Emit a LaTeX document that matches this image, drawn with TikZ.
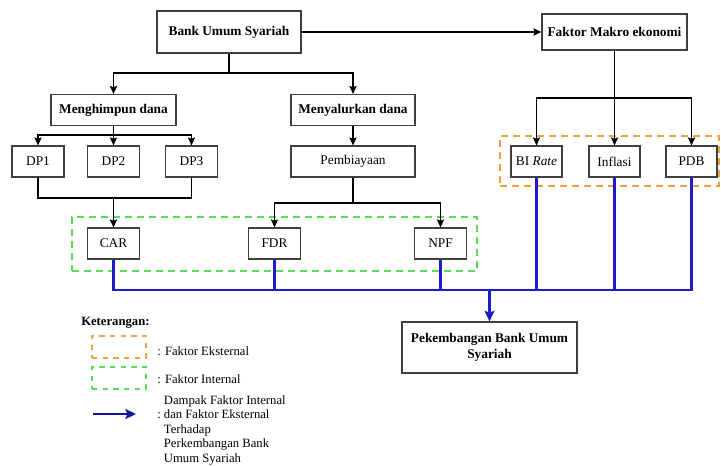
\documentclass[tikz,border=0pt]{standalone}
\usepackage{fontspec}
\setmainfont{Liberation Serif}
\usepackage{tikz}
\usetikzlibrary{shapes.geometric, arrows, arrows.meta, calc, positioning}
\definecolor{eksternal}{RGB}{236,162,64}
\definecolor{internal}{RGB}{85,222,85}
\definecolor{dampak}{RGB}{28,28,204}
\definecolor{dampakket}{RGB}{20,20,150}
\tikzstyle{block} = [rectangle, draw=black!75, line width=0.9pt, minimum width=39pt, minimum height=23.25pt, text centered, inner sep=2pt]
\tikzstyle{title} = [block, font=\fontsize{10}{12}\selectfont\bfseries]
\tikzstyle{arrow} = [line width=0.8pt,-{Stealth[length=6pt, width=5.5pt, inset=1pt]}]
\tikzstyle{impact} = [draw=dampak, line width=1.6pt]
\tikzstyle{impactarrow} = [impact, -{Stealth[length=8pt, width=7.5pt, inset=1.5pt]}]
\tikzstyle{group} = [rectangle, dash pattern=on 5pt off 4pt, line width=1.9pt, inner sep=0pt]
\tikzstyle{legend} = [anchor=west, inner sep=0pt, font=\fontsize{9.5}{10.9}\selectfont]

\begin{document}
\begin{tikzpicture}[x=0.75pt, y=-0.75pt, font=\fontsize{10}{12}\selectfont]
		\useasboundingbox (0,0) rectangle (721,465);
		% kelompok faktor
		\node (intern) [group, draw=internal, minimum width=303.75pt, minimum height=40.5pt] at (274.5,244) {};
		\node (ekstern) [group, draw=eksternal, minimum width=164.25pt, minimum height=37.5pt] at (609.5,161) {};
		% kotak utama
		\node (bus) [title, minimum width=108pt, minimum height=31.5pt] at (229,32) {Bank Umum Syariah};
		\node (makro) [title, minimum width=108.75pt, minimum height=27pt] at (614.5,32) {Faktor Makro ekonomi};
		\node (himpun) [title, minimum width=93.75pt] at (113.5,110) {Menghimpun dana};
		\node (salur) [title, minimum width=93pt] at (353,110) {Menyalurkan dana};
		% indikator
		\node (dp1) [block] at (38,161.5) {DP1};
		\node (dp2) [block] at (113.5,161.5) {DP2};
		\node (dp3) [block] at (191.5,161.5) {DP3};
		\node (pembiayaan) [block, minimum width=93pt] at (353,161.5) {Pembiayaan};
		\node (bi) [block, minimum width=38.25pt] at (536.5,161.5) {BI \textit{Rate}};
		\node (inflasi) [block, minimum width=38.25pt] at (614.5,161.5) {Inflasi};
		\node (pdb) [block, minimum width=38.25pt] at (691.5,161.5) {PDB};
		\node (car) [block] at (113.5,243.5) {CAR};
		\node (fdr) [block] at (274.5,243.5) {FDR};
		\node (npf) [block] at (440.5,243.5) {NPF};
		\node (kembang) [title, minimum width=131.25pt, minimum height=38.25pt, align=center] at (489.5,347.5) {Pekembangan Bank Umum\\Syariah};
		% titik cabang
		\coordinate (busjoin) at (229,73);
		\coordinate (himjoin) at (113.5,135);
		\coordinate (dpjoin) at (113.5,198);
		\coordinate (pbjoin) at (353,203);
		\coordinate (mkjoin) at (614.5,98);
		\coordinate (dampakjoin) at (489.5,290);
		% garis
		\draw [arrow] (bus) -- (makro);
		\draw [line width=0.8pt] (bus.south) -- (busjoin);
		\draw [arrow] (busjoin) -| (himpun.north);
		\draw [arrow] (busjoin) -| (salur.north);
		\draw [line width=0.8pt] (himpun.south) -- (himjoin);
		\foreach \n in {dp1,dp2,dp3} \draw [arrow] (himjoin) -| (\n.north);
		\draw [arrow] (salur) -- (pembiayaan);
		\draw [line width=0.8pt] (dp1.south) |- (dpjoin) -| (dp3.south);
		\draw [arrow] (dpjoin) -- (car.north);
		\draw [line width=0.8pt] (pembiayaan.south) -- (pbjoin);
		\draw [arrow] (pbjoin) -| (fdr.north);
		\draw [arrow] (pbjoin) -| (npf.north);
		\draw [line width=0.8pt] (makro.south) -- (mkjoin);
		\foreach \n in {bi,inflasi,pdb} \draw [arrow] (mkjoin) -| (\n.north);
		\foreach \n in {car,fdr,npf,bi,inflasi,pdb} \draw [impact] (\n.south) |- (dampakjoin);
		\draw [impactarrow] (dampakjoin) -- (kembang.north);
		% keterangan
		\node (ket) [legend, font=\fontsize{9.5}{10.9}\selectfont\bfseries] at (81,323) {Keterangan:};
		\node (legeks) [group, draw=eksternal, minimum width=40.5pt, minimum height=16.5pt, line width=1.7pt, dash pattern=on 4pt off 4pt] at (119,347) {};
		\node (legint) [group, draw=internal, minimum width=40.5pt, minimum height=16.5pt, line width=1.7pt, dash pattern=on 4pt off 4pt] at (119,378) {};
		\coordinate (legfrom) at (93,414);
		\coordinate (legto) at (136,414);
		\draw [impactarrow, draw=dampakket, fill=dampakket] (legfrom) -- (legto);
		\node (keteks) [legend] at (157,351) {: Faktor Eksternal};
		\node (ketint) [legend] at (157,379) {: Faktor Internal};
		\node (ketdampak) [legend, anchor=north west, align=left] at (157,395) {\phantom{:\ }Dampak Faktor Internal\\:\ dan Faktor Eksternal\\\phantom{:\ }Terhadap\\\phantom{:\ }Perkembangan Bank\\\phantom{:\ }Umum Syariah};
		\end{tikzpicture}
\end{document}
